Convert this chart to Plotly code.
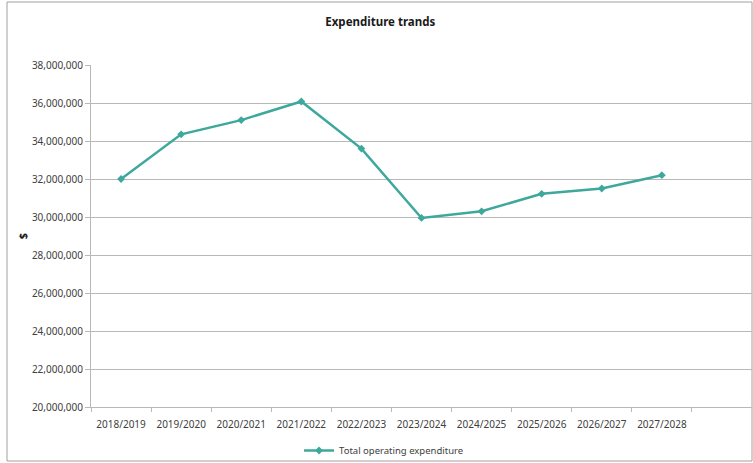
import plotly.graph_objects as go

# Financial years and total operating expenditure ($)
years = ["2018/2019", "2019/2020", "2020/2021", "2021/2022", "2022/2023",
         "2023/2024", "2024/2025", "2025/2026", "2026/2027", "2027/2028"]
total_operating_expenditure = [32000000, 34350000, 35100000, 36080000, 33600000,
                               29950000, 30300000, 31220000, 31500000, 32200000]
y_ticks = list(range(20000000, 38000001, 2000000))

FONT = "Noto Sans, Open Sans, sans-serif"
TEAL = "#3ea89c"
GRID = "#b8b8b8"
TEXT = "#404040"

fig = go.Figure()
fig.add_trace(go.Scatter(
    x=years,
    y=total_operating_expenditure,
    mode="lines+markers",
    name="Total operating expenditure",
    line=dict(color=TEAL, width=2.5),
    marker=dict(symbol="diamond", size=6, color=TEAL),
))

fig.update_layout(
    width=753,
    height=463,
    margin=dict(l=91, r=1, t=65, b=56),
    paper_bgcolor="white",
    plot_bgcolor="white",
    font=dict(family=FONT, size=10, color=TEXT),
    title=dict(
        text="<b>Expenditure trands</b>",
        x=0.505, xref="container", xanchor="center",
        y=0.952, yref="container", yanchor="middle",
        font=dict(family=FONT, size=11.5, color="#1a1a1a"),
    ),
    showlegend=True,
    legend=dict(
        orientation="h",
        x=0.51, xref="container", xanchor="center",
        y=0.027, yref="container", yanchor="middle",
        font=dict(family=FONT, size=9.5, color=TEXT),
        itemwidth=30,
        bgcolor="rgba(0,0,0,0)",
    ),
    xaxis=dict(
        type="category",
        categoryorder="array",
        categoryarray=years,
        range=[-0.5, 10.5],
        showgrid=False,
        showline=True,
        linecolor=GRID,
        linewidth=1,
        ticks="outside",
        tickson="boundaries",
        ticklen=4,
        tickcolor=GRID,
        ticklabelstandoff=8,
        tickfont=dict(family=FONT, size=10, color=TEXT),
    ),
    yaxis=dict(
        range=[20000000, 38000000],
        tickvals=y_ticks,
        tickformat=",d",
        showgrid=True,
        gridcolor=GRID,
        gridwidth=1,
        zeroline=False,
        showline=True,
        linecolor=GRID,
        linewidth=1,
        ticks="outside",
        ticklen=5,
        tickcolor=GRID,
        tickfont=dict(family=FONT, size=10, color=TEXT),
        title=dict(text="<b>$</b>", standoff=2,
                   font=dict(family=FONT, size=11, color="#1a1a1a")),
    ),
)

# Outer chart frame
fig.add_shape(
    type="rect", xref="paper", yref="paper",
    x0=(7 - 91) / 661, x1=(752 - 91) / 661,
    y0=-(461 - 407) / 342, y1=(407 - 2) / 342,
    line=dict(color="#a0a0a0", width=1), fillcolor="rgba(0,0,0,0)",
    layer="below",
)

fig.write_html("out.html")
